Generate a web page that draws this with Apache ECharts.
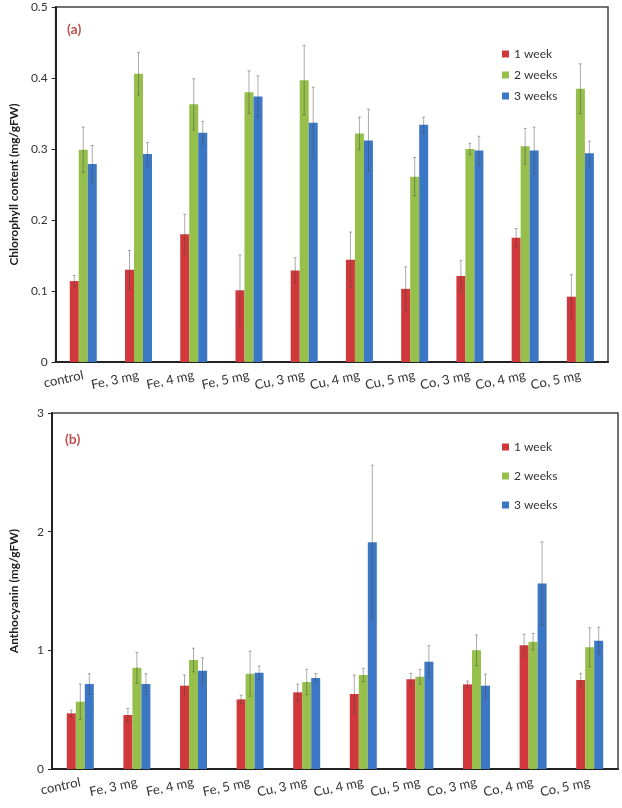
<!DOCTYPE html>
<html>
<head>
<meta charset="utf-8">
<script src="https://cdn.jsdelivr.net/npm/echarts@6/dist/echarts.min.js"></script>
<style>html,body{margin:0;padding:0;background:#fff}#c{width:622px;height:808px}</style>
</head>
<body>
<div id="c"></div>
<script>
const categories = ['control','Fe, 3 mg','Fe, 4 mg','Fe, 5 mg','Cu, 3 mg','Cu, 4 mg','Cu, 5 mg','Co, 3 mg','Co, 4 mg','Co, 5 mg'];
const seriesNames = ['1 week','2 weeks','3 weeks'];

const chl1 = [0.114,0.130,0.180,0.101,0.129,0.144,0.103,0.121,0.175,0.092];
const chl1Err = [0.008,0.027,0.028,0.050,0.018,0.039,0.031,0.022,0.013,0.031];
const chl2 = [0.299,0.406,0.363,0.380,0.397,0.322,0.261,0.300,0.304,0.385];
const chl2Err = [0.032,0.030,0.036,0.030,0.049,0.023,0.027,0.008,0.025,0.035];
const chl3 = [0.279,0.293,0.323,0.374,0.337,0.312,0.334,0.298,0.298,0.294];
const chl3Err = [0.026,0.016,0.016,0.029,0.050,0.044,0.011,0.020,0.033,0.017];

const ant1 = [0.469,0.455,0.702,0.587,0.646,0.632,0.756,0.713,1.042,0.750];
const ant1Err = [0.028,0.056,0.090,0.034,0.070,0.160,0.050,0.028,0.093,0.056];
const ant2 = [0.567,0.853,0.918,0.803,0.733,0.792,0.778,1.000,1.073,1.025];
const ant2Err = [0.150,0.130,0.100,0.190,0.107,0.056,0.062,0.129,0.070,0.165];
const ant3 = [0.716,0.716,0.828,0.811,0.767,1.910,0.904,0.702,1.564,1.081];
const ant3Err = [0.087,0.087,0.110,0.057,0.036,0.650,0.135,0.098,0.350,0.113];

const chlTicks = [0, 0.1, 0.2, 0.3, 0.4, 0.5];
const antTicks = [0, 1, 2, 3];

const colors = ['#d0383b', '#96bf4b', '#3c77c6'];
const FONT = 'Lato';
const BW = 9;

function errSeries(vals, errs, k, axisIdx) {
  return {
    type: 'custom', name: 'err' + axisIdx + k,
    xAxisIndex: axisIdx, yAxisIndex: axisIdx, z: 5, silent: true,
    data: vals.map((v, i) => [i, v, errs[i]]),
    encode: {x: 0, y: 1},
    renderItem: function (params, api) {
      const i = api.value(0), v = api.value(1), e = api.value(2);
      const off = (k - 1) * BW;
      const top = api.coord([i, v + e]);
      const bot = api.coord([i, v - e]);
      const x = top[0] + off;
      const st = {stroke: 'rgba(70,70,70,0.45)', lineWidth: 1};
      return {type: 'group', children: [
        {type: 'line', shape: {x1: x, y1: top[1], x2: x, y2: bot[1]}, style: st},
        {type: 'line', shape: {x1: x - 1.5, y1: top[1], x2: x + 1.5, y2: top[1]}, style: st},
        {type: 'line', shape: {x1: x - 1.5, y1: bot[1], x2: x + 1.5, y2: bot[1]}, style: st}
      ]};
    }
  };
}

function barSeries(vals, k, axisIdx) {
  return {
    type: 'bar', name: seriesNames[k], xAxisIndex: axisIdx, yAxisIndex: axisIdx,
    data: vals, barWidth: BW, barGap: '0%',
    itemStyle: {color: colors[k]}
  };
}

const chlSets = [[chl1, chl1Err], [chl2, chl2Err], [chl3, chl3Err]];
const antSets = [[ant1, ant1Err], [ant2, ant2Err], [ant3, ant3Err]];
const series = [];
chlSets.forEach((s, k) => series.push(barSeries(s[0], k, 0)));
antSets.forEach((s, k) => series.push(barSeries(s[0], k, 1)));
chlSets.forEach((s, k) => series.push(errSeries(s[0], s[1], k, 0)));
antSets.forEach((s, k) => series.push(errSeries(s[0], s[1], k, 1)));

function xAx(gi) {
  return {
    type: 'category', gridIndex: gi, data: categories,
    axisLine: {lineStyle: {color: '#222', width: 2}},
    axisTick: {show: false},
    axisLabel: {rotate: 12, fontFamily: FONT, fontSize: 13, color: '#333', margin: 13, interval: 0}
  };
}
function yAx(gi, ticks, name, fmt) {
  return {
    type: 'value', gridIndex: gi, min: ticks[0], max: ticks[ticks.length - 1],
    interval: ticks[1] - ticks[0],
    name: name, nameLocation: 'middle', nameGap: 32,
    nameTextStyle: {fontFamily: FONT, fontSize: 12, fontWeight: 'bold', color: '#222'},
    axisLine: {show: true, lineStyle: {color: '#222', width: 2}},
    axisTick: {show: true, length: 4, lineStyle: {color: '#222'}},
    splitLine: {show: false},
    axisLabel: {fontFamily: FONT, fontSize: 12, color: '#333', margin: 8, formatter: fmt}
  };
}

const option = {
  animation: false,
  backgroundColor: '#fff',
  title: [
    {text: '(a)', left: 62, top: 17, textStyle: {fontFamily: FONT, fontSize: 14, fontWeight: 'bold', color: '#c0504d'}},
    {text: '(b)', left: 60, top: 427, textStyle: {fontFamily: FONT, fontSize: 14, fontWeight: 'bold', color: '#c0504d'}}
  ],
  legend: [
    {data: seriesNames, orient: 'vertical', left: 497, top: 43, icon: 'rect', itemWidth: 7, itemHeight: 7, itemGap: 9,
     textStyle: {fontFamily: FONT, fontSize: 12, color: '#333'}},
    {data: seriesNames, orient: 'vertical', left: 497, top: 436, icon: 'rect', itemWidth: 7, itemHeight: 7, itemGap: 17,
     textStyle: {fontFamily: FONT, fontSize: 12, color: '#333'}}
  ],
  grid: [
    {left: 47, top: 7, right: 14, height: 355, show: true, borderColor: '#444', borderWidth: 1.5, backgroundColor: 'transparent'},
    {left: 47, top: 413, right: 4, height: 356, show: true, borderColor: '#444', borderWidth: 1.5, backgroundColor: 'transparent'}
  ],
  xAxis: [xAx(0), xAx(1)],
  yAxis: [
    yAx(0, chlTicks, 'Chlorophyll content (mg/gFW)', v => v === 0 ? '0' : v.toFixed(1)),
    yAx(1, antTicks, 'Anthocyanin (mg/gFW)', v => String(v))
  ],
  series: series
};

const chart = echarts.init(document.getElementById('c'), null, {renderer: 'canvas'});
chart.setOption(option);
</script>
</body>
</html>
